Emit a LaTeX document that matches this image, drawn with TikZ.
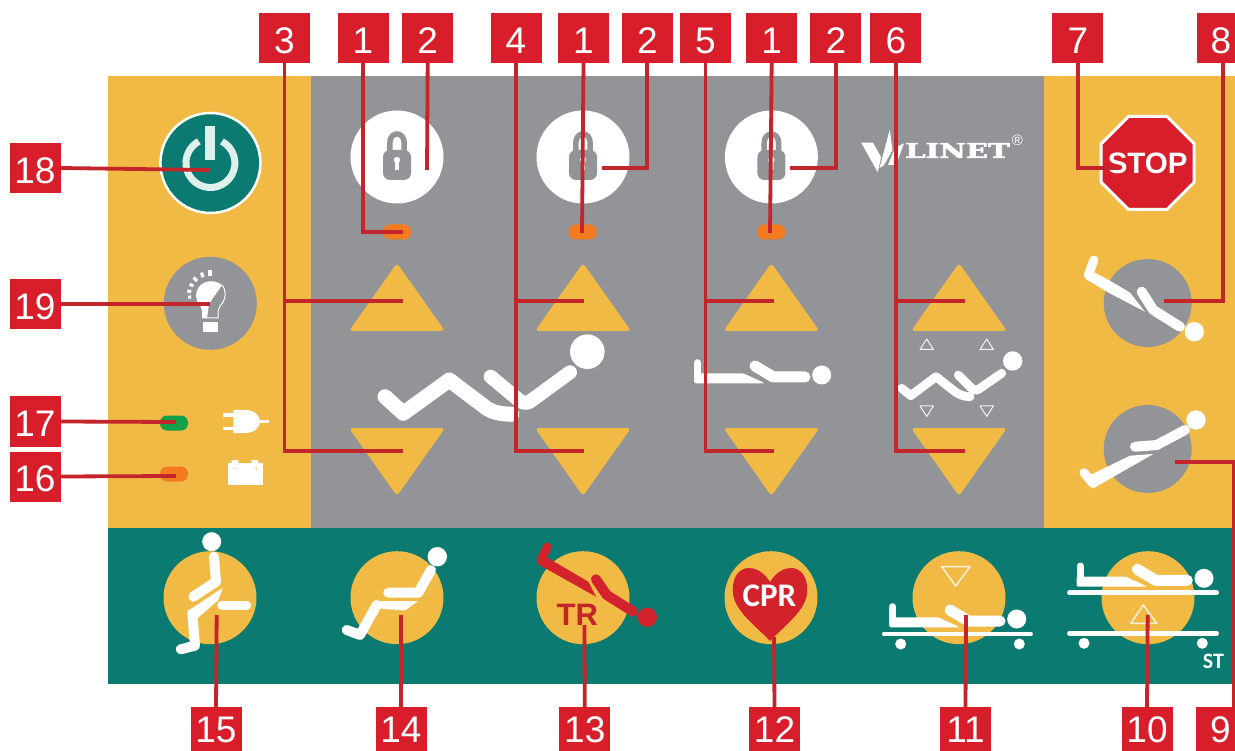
\documentclass[tikz,border=0pt]{standalone}
\usepackage{fontspec}
\usepackage{graphicx}
\setmainfont{Liberation Sans}
\newfontfamily\carl{Carlito}
\newfontfamily\dserif[FakeBold=2.5]{DejaVu Serif}
\definecolor{panelO}{HTML}{F0BA45}
\definecolor{panelG}{HTML}{939498}
\definecolor{panelT}{HTML}{0B7A70}
\definecolor{boxR}{HTML}{D71E2A}
\definecolor{lineR}{HTML}{C4252B}
\definecolor{ledO}{HTML}{F47C20}
\definecolor{ledG}{HTML}{12A14B}
\definecolor{ringW}{HTML}{DDF0EC}
\definecolor{figR}{HTML}{D2222B}
\tikzset{
  lab/.style={fill=boxR,text=white,inner sep=0pt,minimum width=51pt,minimum height=50pt,
    font=\fontsize{37}{37}\selectfont,text height=30.6pt,text depth=0pt},
  labb/.style={lab,minimum height=44pt,text height=27.8pt},
  conn/.style={draw=lineR,line width=3.8pt,line join=miter},
  limb/.style={line width=#1,line cap=round,line join=round},
  limb/.default=8.5pt,
  tri/.style={fill=panelO,rounded corners=3.5pt},
  led/.style={rounded corners=7pt},
}
\newcommand{\lockicon}[1]{%
  \begin{scope}[shift={(#1,0)}]
    \fill[white] (0,157) circle[radius=46.5pt];
    \draw[panelG,line width=5.5pt] (-7.2,152) -- (-7.2,143) .. controls (-7.2,131) and (7.2,131) .. (7.2,143) -- (7.2,152);
    \fill[panelG,rounded corners=7pt] (-14,150) rectangle (14,180);
    \fill[white] (0,160) circle[radius=3.2pt];
    \fill[white] (-1.8,161) -- (1.8,161) -- (2,170) -- (-2,170) -- cycle;
  \end{scope}}
\newcommand{\arrowpair}[1]{%
  \begin{scope}[shift={(#1,0)}]
    \path[tri] (0,263) -- (48,331) -- (-48,331) -- cycle;
    \path[tri] (0,496) -- (48,428) -- (-48,428) -- cycle;
  \end{scope}}
\newcommand{\flatbody}[2]{%
  \begin{scope}[shift={(#1,#2)}]
    \draw[white,limb=7pt] (892.7,606.7) -- (892.7,622);
    \fill[white,rounded corners=1.5pt] (889.2,617.3) -- (938.3,617.3) -- (960,627.3) -- (889.2,627.3) -- cycle;
    \draw[white,limb=11pt] (950,610) -- (968.3,621) -- (1000,621);
    \fill[white] (1016.7,619) circle[radius=9.5pt];
  \end{scope}}
\begin{document}
\begin{tikzpicture}[x=1pt,y=-1pt]
\useasboundingbox (0,0) rectangle (1235,751);
\fill[white] (0,0) rectangle (1235,751);
% panels
\fill[panelO] (108,76) rectangle (311,528);
\fill[panelG] (311,76) rectangle (1044,528);
\fill[panelO] (1044,76) rectangle (1235,528);
\fill[panelT] (108,528) rectangle (1235,684);
% power
\fill[panelT,draw=white,line width=2.5pt] (210.4,163) circle[radius=50pt];
\draw[ringW,line width=7pt] (221.9,141.4) arc[start angle=62,end angle=-242,radius=24.5pt];
\fill[ringW] (205.4,126) rectangle (215.4,160);
% bulb
\fill[panelG] (210.3,303.3) circle[radius=46.5pt];
\foreach \a/\l in {186/3,170/4,152/4,133/5,111/5,90/6}
  \draw[white,line width=3.2pt] ({210+19*cos(\a)},{295-19*sin(\a)}) -- ({210+(19+\l)*cos(\a)},{295-(19+\l)*sin(\a)});
\fill[white] (222,285) .. controls (212,277) and (196,282) .. (196,296) .. controls (196,303) and (202,306) .. (202,311) -- (202,318) -- (207,318) -- (209,304) -- cycle;
\draw[white,line width=1pt] (222,285) .. controls (227,291) and (226,300) .. (220,306) .. controls (218,309) and (218,312) .. (218,318) -- (202,318);
\fill[white] (203.3,321.7) rectangle (217.7,331.7);
% status leds and icons
\fill[ledG,led] (160,415.5) rectangle (188,430.5);
\fill[ledO,led] (160,466.5) rectangle (188,481.5);
\draw[white,line width=3pt] (222.7,415) -- (234,415) (222.7,428.3) -- (234,428.3) (259,421.7) -- (269.3,421.7);
\fill[white] (233.3,410) -- (245,410) .. controls (255,410) and (260,416) .. (260,421.5) .. controls (260,427) and (255,433) .. (245,433) -- (233.3,433) -- cycle;
\fill[white] (228.3,463.3) rectangle (262.7,485);
\fill[white] (231.7,460) rectangle (238.3,464) (251.7,460) rectangle (258.3,464);
\draw[panelO!45!white,line width=.9pt] (233,468.5) -- (237,468.5) (254,468.5) -- (258,468.5) (256,466.5) -- (256,470.5);
% locks
\lockicon{397} \lockicon{583} \lockicon{771.4}
\foreach \c in {397,582.6,771} \fill[ledO,led] ({\c-14},224.5) rectangle ({\c+14},239.5);
% arrows
\arrowpair{397} \arrowpair{583} \arrowpair{771.4} \arrowpair{959}
\foreach \c in {926.7,986.7} {
  \draw[white!90!panelG,line width=1pt,line join=round] (\c,339) -- ({\c+6.7},349.5) -- ({\c-6.7},349.5) -- cycle;
  \draw[white!90!panelG,line width=1pt,line join=round] (\c,416.5) -- ({\c+6.7},406) -- ({\c-6.7},406) -- cycle;
}
% large reclined figure
\draw[white,limb=15pt] (385,396.7) -- (403.3,413.3) -- (449.3,380) -- (486.7,408.3) .. controls (492,412) and (500,414) .. (511.7,414.3);
\draw[white,limb=14pt] (490.7,376.7) -- (516.7,398.3) .. controls (520,401) and (524,405) .. (530,401.5) -- (570,372.3);
\fill[white] (587.3,351.7) circle[radius=17.3pt];
% flat figure, grey panel
\flatbody{-195}{-244}
% small reclined figure
\draw[white,limb=8.8pt] (901.7,388.3) -- (910.7,395.7) -- (936,376.7) -- (955,391.7) .. controls (958,394) and (963,396.5) .. (970,396.7);
\draw[white,limb=8.8pt] (958.3,375) -- (971.7,388.3) .. controls (974,390) and (976,391) .. (979,389) -- (1001.7,373.3);
\fill[white] (1012.7,361) circle[radius=9.7pt];
% logo
\fill[white] (861.2,142.7) -- (873,142.7) -- (881,157) -- (877.8,172.3) -- cycle;
\fill[white] (879.5,168) -- (889.7,130) -- (892.5,150) -- (884,165) -- cycle;
\fill[white] (888,165) -- (895,148) -- (904,143.3) -- (896,165) -- cycle;
\node[text=white,inner sep=0pt] (logo) at (957.5,150.5) {\scalebox{1.42}[1]{\dserif\bfseries\fontsize{20.5}{20.5}\selectfont LINET}};
\node[text=white,inner sep=0pt,font=\fontsize{15}{15}\selectfont] (logoR) at (1017.5,140) {®};
% stop
\fill[boxR,draw=white,line width=3pt,line join=miter]
  (1128.4,116.5) -- (1167,116.5) -- (1194.2,143.7) -- (1194.2,182.3) -- (1167,209.5) -- (1128.4,209.5) -- (1101.2,182.3) -- (1101.2,143.7) -- cycle;
\node[text=white,inner sep=0pt,font=\bfseries\fontsize{29.5}{29.5}\selectfont] (stop) at (1147.7,163) {STOP};
% right figures
\fill[panelG] (1147.7,303) circle[radius=44pt];
\fill[panelG] (1147.7,449) circle[radius=44pt];
\draw[white,limb=9pt] (1094,260) -- (1088.3,275);
\fill[white] (1085.7,279) -- (1107.3,292) -- (1145,311.7) -- (1130,292.7) -- (1110,280.7) -- (1091,270.7) -- cycle;
\draw[white,limb=10pt] (1141.7,291.7) -- (1153.3,310) -- (1180,326.7);
\fill[white] (1194.3,331.7) circle[radius=9.7pt];
\draw[white,limb=10pt] (1135,446.7) -- (1156.7,445) -- (1185,430);
\fill[white] (1196,420) circle[radius=9.7pt];
\draw[white,limb=9pt] (1084,472.7) -- (1092.7,483.3);
\fill[white] (1086.7,476.7) -- (1093.3,488.3) -- (1153.3,454) -- (1130,455.7) -- cycle;
% bottom circles
\foreach \c in {210,397,583,771,959,1148} \fill[panelO] (\c,597.7) circle[radius=46.5pt];
% 15 sitting
\fill[white] (211.7,541.7) circle[radius=9.5pt];
\draw[white,limb=10pt] (214,556.7) -- (216,581.7) -- (193.3,596.7);
\draw[white,limb=9pt] (221.7,605) -- (246.7,605);
\fill[white] (222.7,587.7) -- (187,611.5) -- (196.7,619) -- (218.3,600) -- cycle;
\draw[white,limb=10pt] (192.3,613.3) -- (195,645.7) -- (180.7,649.3);
% 14 chair
\fill[white] (437.3,556.7) circle[radius=9.7pt];
\draw[white,limb=10pt] (431,570) -- (418.3,592.7) -- (388.3,592.7);
\fill[white] (418.3,601) -- (376.7,601) -- (372,608) -- (405,610.5) -- cycle;
\draw[white,limb=10pt] (376.7,605) -- (360,635) -- (346.7,630);
% 13 TR
\draw[figR,limb=8.5pt] (547.3,546.7) -- (540.7,560);
\fill[figR] (537.8,564) -- (596,596.7) -- (588.3,581.7) -- (544,555.7) -- cycle;
\draw[figR,limb=10pt] (596,579.3) -- (606.7,595) -- (633.3,611.7);
\fill[figR] (647.3,617.3) circle[radius=9.7pt];
\node[text=lineR,inner sep=0pt,font=\bfseries\fontsize{31}{31}\selectfont] (tr) at (577.3,615) {TR};
% 12 CPR
\fill[figR] (770,582) .. controls (763,571) and (755,568) .. (749,568) .. controls (739,568) and (732.7,577) .. (732.7,590)
  .. controls (732.7,610) and (755,625) .. (770,641) .. controls (785,625) and (807.3,610) .. (807.3,590)
  .. controls (807.3,577) and (801,568) .. (791,568) .. controls (785,568) and (777,571) .. (770,582) -- cycle;
\node[text=white,inner sep=0pt,font=\carl\bfseries\fontsize{33}{33}\selectfont] (cpr) at (769.5,596) {CPR};
% 11 lower
\draw[white!80!panelO,line width=1.5pt,line join=round] (941.7,566.7) -- (970,566.7) -- (955.7,586) -- cycle;
\flatbody{0}{0}
\draw[white,line width=4.5pt,line cap=round] (884,634) -- (1030.7,634);
\fill[white] (900.7,644) circle[radius=5.5pt] (1019.3,644) circle[radius=5.5pt];
% 10 raise
\draw[white!80!panelO,line width=1.5pt,line join=round] (1143.3,605) -- (1156.7,623.3) -- (1130.7,623.3) -- cycle;
\flatbody{187.3}{-40.7}
\draw[white,line width=4.5pt,line cap=round] (1069.3,592.7) -- (1216.7,592.7) (1069.3,633.3) -- (1216.7,633.3);
\fill[white] (1084,643.3) circle[radius=5.5pt] (1202.3,643.3) circle[radius=5.5pt];
\node[text=white,inner sep=0pt,font=\carl\bfseries\fontsize{22}{22}\selectfont] (st) at (1213.5,661) {ST};
% connector ends
\coordinate (t1a) at (402.5,232);  \coordinate (t1b) at (582,233);  \coordinate (t1c) at (770,233);
\coordinate (t2a) at (427,170);    \coordinate (t2b) at (602,168);  \coordinate (t2c) at (790,168);
\coordinate (t3u) at (402.5,301);  \coordinate (t3d) at (402.5,451);
\coordinate (t4u) at (584.4,301);  \coordinate (t4d) at (584.4,451);
\coordinate (t5u) at (774,301);    \coordinate (t5d) at (774,451);
\coordinate (t6u) at (965,301);    \coordinate (t6d) at (965,451);
\coordinate (t7) at (1118,168);    \coordinate (t8) at (1163.5,301);  \coordinate (t9) at (1174.6,462);
\coordinate (t10) at (1147.7,615); \coordinate (t11) at (966,615);    \coordinate (t12) at (774,637);
\coordinate (t13) at (584.4,625);  \coordinate (t14) at (401,615);    \coordinate (t15) at (216.7,615);
\coordinate (t16) at (176,476);    \coordinate (t17) at (176,422);    \coordinate (t18) at (209.6,170);
\coordinate (t19) at (209.6,304);
% labels
\node[lab] (n3)  at (284.5,38) {3};
\node[lab] (n1a) at (363,38) {1};
\node[lab] (n2a) at (427.7,38) {2};
\node[lab] (n4)  at (516,38) {4};
\node[lab] (n1b) at (583.5,38) {1};
\node[lab] (n2b) at (647.3,38) {2};
\node[lab] (n5)  at (705.5,38) {5};
\node[lab] (n1c) at (771.7,38) {1};
\node[lab] (n2c) at (835.8,38) {2};
\node[lab] (n6)  at (895.8,38) {6};
\node[lab] (n7)  at (1077.8,38) {7};
\node[lab,minimum width=38pt] (n8) at (1216,38) {\hspace*{10pt}8};
\node[lab] (n18) at (35,168) {18};
\node[lab] (n19) at (35,304) {19};
\node[lab] (n17) at (35,421.5) {17};
\node[lab] (n16) at (35,476.5) {16};
\node[labb] (n15) at (216,729) {15};
\node[labb] (n14) at (401,729) {14};
\node[labb] (n13) at (584.8,729) {13};
\node[labb] (n12) at (774.5,729) {12};
\node[labb] (n11) at (965.5,729) {11};
\node[labb] (n10) at (1147,729) {10};
\node[labb,minimum width=39pt] (n9) at (1215.5,729) {\hspace*{10pt}9};
% connectors
\draw[conn] (n1a.south) |- (t1a);
\draw[conn] (n1b.south) -- (t1b);
\draw[conn] (n1c.south) -- (t1c);
\draw[conn] (n2a.south) -- (t2a);
\draw[conn] (n2b.south) |- (t2b);
\draw[conn] (n2c.south) |- (t2c);
\draw[conn] (n3.south) |- (t3d); \draw[conn] (n3.south) |- (t3u);
\draw[conn] (n4.south) |- (t4d); \draw[conn] (n4.south) |- (t4u);
\draw[conn] (n5.south) |- (t5d); \draw[conn] (n5.south) |- (t5u);
\draw[conn] (n6.south) |- (t6d); \draw[conn] (n6.south) |- (t6u);
\draw[conn] (n7.south) |- (t7);
\draw[conn] ([xshift=7pt]n8.south) |- (t8);
\draw[conn] ([xshift=18pt]n9.north) |- (t9);
\draw[conn] (n10.north) -- (t10);
\draw[conn] (n11.north) -- (t11);
\draw[conn] (n12.north) -- (t12);
\draw[conn] (n13.north) -- (t13);
\draw[conn] (n14.north) -- (t14);
\draw[conn] (n15.north) -- (t15);
\draw[conn] (n16.east) -- (t16);
\draw[conn] (n17.east) -- (t17);
\draw[conn] (n18.east) -- (t18);
\draw[conn] (n19.east) -- (t19);
\end{tikzpicture}
\end{document}
